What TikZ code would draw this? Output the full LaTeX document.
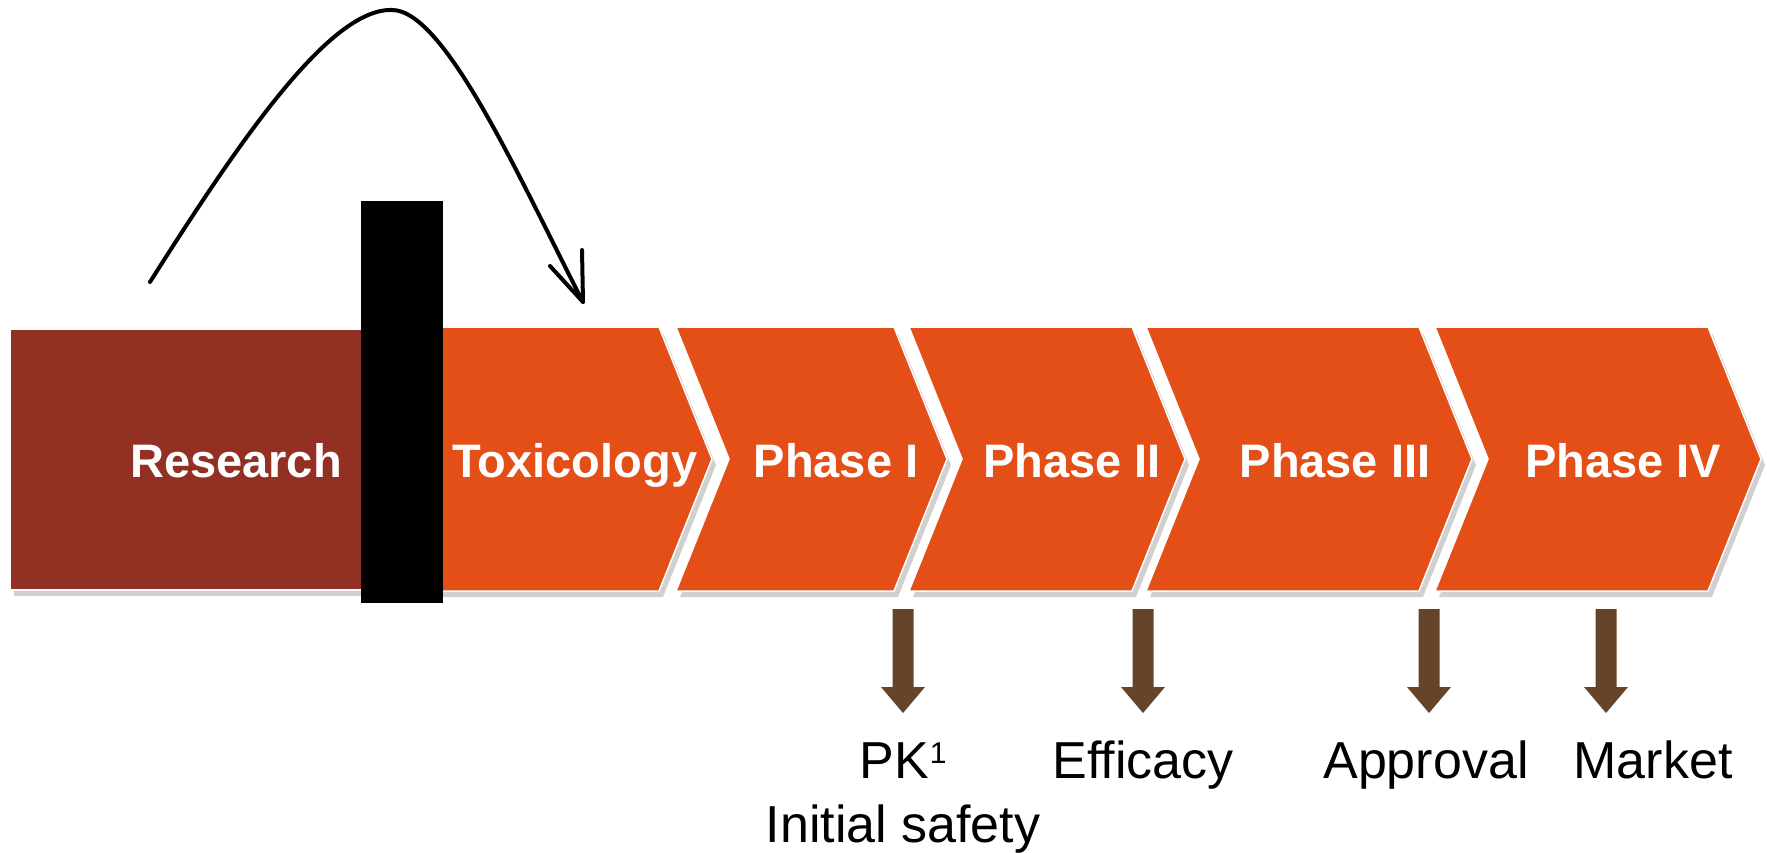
\documentclass[tikz,border=0pt]{standalone}
\usepackage{fontspec}
\setmainfont{Liberation Sans}
\definecolor{resred}{HTML}{923123}
\definecolor{chevor}{HTML}{E34F17}
\definecolor{arrbrown}{HTML}{654429}
\definecolor{shadowgray}{HTML}{D0D0D0}
\begin{document}
\begin{tikzpicture}[x=1pt,y=-1pt,
  shadowfill/.style={fill=shadowgray},
  chev/.style={fill=chevor, draw=white, line width=1.5pt},
  resbox/.style={fill=resred, draw=white, line width=1.5pt},
  phasetext/.style={text=white, font=\bfseries\fontsize{47}{56}\selectfont, anchor=base, inner sep=0pt},
  labeltext/.style={text=black, font=\fontsize{52}{62}\selectfont, anchor=base, inner sep=0pt},
  curveline/.style={draw=black, line width=4pt, line cap=round, line join=round},
  blockdown/.pic={\fill[arrbrown] (-10.5,0) -- (10.5,0) -- (10.5,78) -- (22,78) -- (0,104) -- (-22,78) -- (-10.5,78) -- cycle;}
]
\useasboundingbox (0,0) rectangle (1767,853);
\fill[white] (0,0) rectangle (1767,853);

% shadows
\begin{scope}[shift={(4,6)}]
\fill[shadowfill] (10,329) rectangle (380,590);
\fill[shadowfill] (400,327) -- (659,327) -- (712,459) -- (659,591) -- (400,591) -- cycle;
\fill[shadowfill] (676,327) -- (894,327) -- (947,459) -- (894,591) -- (676,591) -- (729,459) -- cycle;
\fill[shadowfill] (909,327) -- (1132,327) -- (1185,459) -- (1132,591) -- (909,591) -- (962,459) -- cycle;
\fill[shadowfill] (1146,327) -- (1419,327) -- (1472,459) -- (1419,591) -- (1146,591) -- (1199,459) -- cycle;
\fill[shadowfill] (1435,327) -- (1708,327) -- (1761,459) -- (1708,591) -- (1435,591) -- (1488,459) -- cycle;
\end{scope}

% shapes
\path[resbox] (10,329) rectangle (380,590);
\path[chev] (400,327) -- (659,327) -- (712,459) -- (659,591) -- (400,591) -- cycle;
\path[chev] (676,327) -- (894,327) -- (947,459) -- (894,591) -- (676,591) -- (729,459) -- cycle;
\path[chev] (909,327) -- (1132,327) -- (1185,459) -- (1132,591) -- (909,591) -- (962,459) -- cycle;
\path[chev] (1146,327) -- (1419,327) -- (1472,459) -- (1419,591) -- (1146,591) -- (1199,459) -- cycle;
\path[chev] (1435,327) -- (1708,327) -- (1761,459) -- (1708,591) -- (1435,591) -- (1488,459) -- cycle;

% black bar
\fill[black] (361,201) rectangle (443,603);

% stage texts
\node[phasetext] (research) at (236,477) {Research};
\node[phasetext] (tox) at (575,477) {Toxicology};
\node[phasetext] (ph1) at (836,477) {Phase I};
\node[phasetext] (ph2) at (1072,477) {Phase II};
\node[phasetext] (ph3) at (1335,477) {Phase III};
\node[phasetext] (ph4) at (1623,477) {Phase IV};

% down arrows
\pic at (903,609) {blockdown};
\pic at (1143,609) {blockdown};
\pic at (1429,609) {blockdown};
\pic at (1606,609) {blockdown};

% labels
\node[labeltext] (pk) at (903,778) {PK\kern1pt\raisebox{15pt}{\fontsize{30}{30}\selectfont 1}};
\node[labeltext] (safety) at (903,842) {Initial safety};
\node[labeltext] (efficacy) at (1143,778) {Efficacy};
\node[labeltext] (approval) at (1426,778) {Approval};
\node[labeltext] (market) at (1653,778) {Market};

% curved arrow
\coordinate (cstart) at (150,282);
\coordinate (cpeak) at (392,10);
\coordinate (ctip) at (583,302);
\coordinate (barbA) at (550,266);
\coordinate (barbB) at (582,250);
\draw[curveline] (cstart) .. controls (240,140) and (330,8) .. (cpeak)
  .. controls (445,10) and (520,180) .. (ctip);
\draw[curveline] (barbA) -- (ctip) -- (barbB);
\end{tikzpicture}
\end{document}
